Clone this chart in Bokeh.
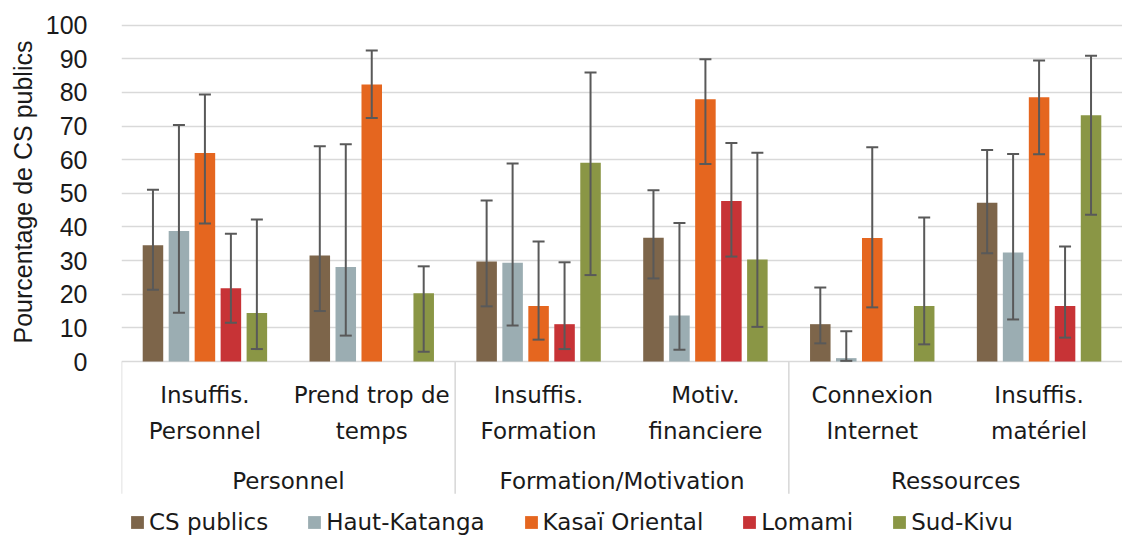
import math
from bokeh.plotting import figure
from bokeh.models import (ColumnDataSource, FactorRange, Range1d, FixedTicker, Whisker,
                          TeeHead, Legend, LegendItem, Title)
from bokeh.transform import dodge
from bokeh.core.properties import value
from bokeh.embed import file_html
from bokeh.resources import INLINE

nan = float("nan")

groups = ["Personnel", "Personnel", "Formation/Motivation", "Formation/Motivation",
          "Ressources", "Ressources"]
subcats = ["Insuffis.\nPersonnel", "Prend trop de\ntemps", "Insuffis.\nFormation",
           "Motiv.\nfinanciere", "Connexion\nInternet", "Insuffis.\nmatériel"]
group_names = ["Personnel", "Formation/Motivation", "Ressources"]
series_names = ["CS publics", "Haut-Katanga", "Kasaï Oriental", "Lomami", "Sud-Kivu"]
colors = ["#7d654a", "#9badb2", "#e5661f", "#c73336", "#8a9645"]

cs_publics = [34.6, 31.5, 29.7, 36.8, 11.1, 47.2]
cs_publics_lo = [21.3, 15.0, 16.4, 24.7, 5.4, 32.2]
cs_publics_hi = [51.1, 64.0, 47.9, 50.9, 22.0, 62.9]

haut_katanga = [38.8, 28.1, 29.4, 13.7, 1.0, 32.4]
haut_katanga_lo = [14.5, 7.7, 10.7, 3.5, 0.2, 12.5]
haut_katanga_hi = [70.3, 64.6, 58.9, 41.2, 9.0, 61.7]

kasai_oriental = [62.0, 82.4, 16.5, 78.0, 36.7, 78.6]
kasai_oriental_lo = [41.0, 72.4, 6.5, 58.7, 16.1, 61.6]
kasai_oriental_hi = [79.4, 92.5, 35.7, 89.9, 63.7, 89.5]

lomami = [21.8, nan, 11.1, 47.7, 0.0, 16.5]
lomami_lo = [11.5, nan, 3.7, 31.2, nan, 7.1]
lomami_hi = [38.0, nan, 29.5, 65.0, nan, 34.2]

sud_kivu = [14.4, 20.3, 59.1, 30.3, 16.5, 73.2]
sud_kivu_lo = [3.7, 2.9, 25.7, 10.3, 5.1, 43.6]
sud_kivu_hi = [42.2, 28.3, 85.9, 62.1, 42.8, 90.9]

yticks = list(range(0, 101, 10))

series = [
    (cs_publics, cs_publics_lo, cs_publics_hi),
    (haut_katanga, haut_katanga_lo, haut_katanga_hi),
    (kasai_oriental, kasai_oriental_lo, kasai_oriental_hi),
    (lomami, lomami_lo, lomami_hi),
    (sud_kivu, sud_kivu_lo, sud_kivu_hi),
]

factors = list(zip(groups, subcats))

p = figure(
    x_range=FactorRange(*factors, factor_padding=0, group_padding=0, range_padding=0),
    y_range=Range1d(-52.33, 102.88),
    width=1122, height=537,
    output_backend="svg", toolbar_location=None,
    min_border_left=120, min_border_right=0, min_border_top=15, min_border_bottom=0,
)
p.outline_line_color = None
p.background_fill_color = "white"
p.xaxis.visible = False
p.xgrid.visible = False

p.yaxis.ticker = FixedTicker(ticks=yticks)
p.ygrid.ticker = FixedTicker(ticks=yticks)
p.ygrid.grid_line_color = "#d9d9d9"
p.ygrid.grid_line_width = 1.6
p.yaxis.axis_line_color = None
p.yaxis.major_tick_line_color = None
p.yaxis.minor_tick_line_color = None
p.yaxis.major_label_text_font = "Liberation Sans"
p.yaxis.major_label_text_font_size = "25px"
p.yaxis.major_label_text_color = "#1a1a1a"
p.yaxis.major_label_standoff = 28

offsets = [-0.3114, -0.1557, 0.0, 0.1557, 0.3114]
bar_w = 0.123

items = []
for (vals, lo, hi), name, col, off in zip(series, series_names, colors, offsets):
    src = ColumnDataSource(dict(x=factors, top=vals, lo=lo, hi=hi))
    r = p.vbar(x=dodge("x", off, range=p.x_range), top="top", width=bar_w, bottom=0,
               source=src, fill_color=col, line_color=None)
    w = Whisker(base=dodge("x", off, range=p.x_range), lower="lo", upper="hi", source=src,
                line_color="#595959", line_width=2, level="overlay",
                upper_head=TeeHead(size=12, line_color="#595959", line_width=2),
                lower_head=TeeHead(size=12, line_color="#595959", line_width=2))
    p.add_layout(w)
    items.append(LegendItem(label=name, renderers=[r]))

# separators of the category axis
p.segment(x0=[0, 2, 4], x1=[0, 2, 4], y0=[0, 0, 0], y1=[-39.3, -39.3, -39.3],
          line_color="#d9d9d9", line_width=1.6)

# category labels
p.text(x=factors, y=[-15.3] * len(factors), text=subcats,
       text_font=value("DejaVu Sans"), text_font_size="23px", text_color="#1a1a1a",
       text_align="center", text_baseline="middle", text_line_height=1.35)
p.text(x=group_names, y=[-35.4] * len(group_names), text=group_names,
       text_font=value("DejaVu Sans"), text_font_size="23px", text_color="#1a1a1a",
       text_align="center", text_baseline="middle")

ytitle = Title(text="Pourcentage de CS publics", align="left", offset=194, standoff=12,
               text_font="Liberation Sans", text_font_size="25px", text_font_style="normal",
               text_color="#1a1a1a")
p.add_layout(ytitle, "left")

legend = Legend(items=items, orientation="horizontal", location=(8, 2),
                glyph_width=16, glyph_height=16, label_standoff=4, spacing=38,
                label_text_font="DejaVu Sans", label_text_font_size="23px",
                label_text_color="#1a1a1a",
                border_line_color=None, background_fill_alpha=0, padding=0, margin=0)
p.add_layout(legend)

open("out.html", "w").write(file_html(p, INLINE))
